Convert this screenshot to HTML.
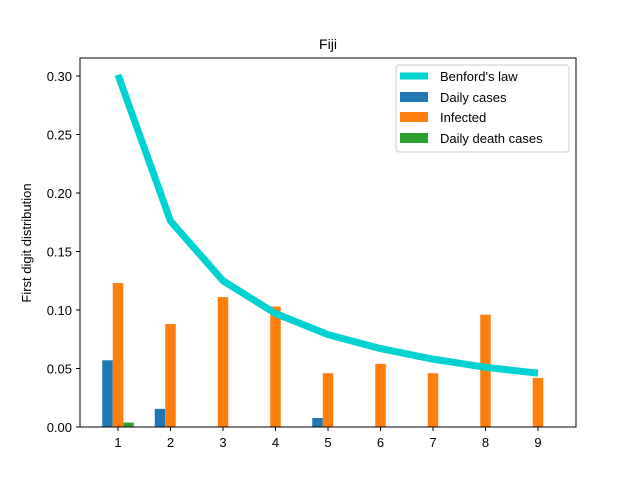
<!DOCTYPE html>
<html><head><meta charset="utf-8"><style>
body{margin:0;background:#fff;font-family:"Liberation Sans",sans-serif;}
svg text{font-family:"Liberation Sans",sans-serif;}
</style></head><body>
<svg id="chart" width="640" height="480" viewBox="0 0 640 480">
<rect width="640" height="480" fill="#fff"/>
<text x="328" y="49" text-anchor="middle" font-size="14">Fiji</text>
<text transform="translate(31,243) rotate(-90)" text-anchor="middle" font-size="13">First digit distribution</text>
<g id="bars"></g><g id="line"></g><g id="ticks"></g>
<rect x="80" y="58" width="496" height="369" fill="none" stroke="#000" stroke-width="1"/>
<g>
<rect x="396" y="65" width="173" height="87" fill="#fff" stroke="#ccc" rx="3"/>
<line x1="400" y1="76" x2="428" y2="76" stroke="#00d2d2" stroke-width="7"/>
<text x="440" y="81" font-size="13">Benford's law</text>
<rect x="400" y="92" width="28" height="10" fill="#1f77b4"/>
<text x="440" y="102" font-size="13">Daily cases</text>
<rect x="400" y="112" width="28" height="10" fill="#ff7f0e"/>
<text x="440" y="122" font-size="13">Infected</text>
<rect x="400" y="133" width="28" height="10" fill="#2ca02c"/>
<text x="440" y="143" font-size="13">Daily death cases</text>
</g>
</svg>
<script>
const digits=[1,2,3,4,5,6,7,8,9];
const benford=[0.301,0.176,0.125,0.097,0.079,0.067,0.058,0.051,0.046];
const dailyCases=[0.057,0.0155,0,0,0.0077,0,0,0,0];
const infected=[0.123,0.088,0.111,0.103,0.046,0.054,0.046,0.096,0.042];
const deaths=[0.0038,0,0,0,0,0,0,0,0];
const yTicks=[0,0.05,0.10,0.15,0.20,0.25,0.30];
const NS="http://www.w3.org/2000/svg";
const X=d=>118+(d-1)*52.5;
const Y=v=>427-v*1170;
const bw=0.2*52.5;
function mk(t,a,p){const e=document.createElementNS(NS,t);for(const k in a)e.setAttribute(k,a[k]);p.appendChild(e);return e;}
const bars=document.getElementById('bars');
const series=[[dailyCases,'#1f77b4',-0.2,'daily-cases'],[infected,'#ff7f0e',0,'infected'],[deaths,'#2ca02c',0.2,'daily-death']];
series.forEach(([vals,col,off,nm])=>{vals.forEach((v,i)=>{if(v<=0)return;
const r=mk('rect',{x:X(digits[i]+off)-bw/2,y:Y(v),width:bw,height:Y(0)-Y(v),fill:col},bars);

});});
const pl=mk('polyline',{points:digits.map((d,i)=>X(d)+','+Y(benford[i])).join(' '),fill:'none',stroke:'#00d2d2','stroke-width':7,'stroke-linejoin':'round'},document.getElementById('line'));


const tk=document.getElementById('ticks');
digits.forEach(d=>{mk('line',{x1:X(d),x2:X(d),y1:427,y2:431,stroke:'#000'},tk);
const t=mk('text',{x:X(d),y:447,'text-anchor':'middle','font-size':13},tk);t.textContent=d;

});
yTicks.forEach(v=>{mk('line',{x1:76,x2:80,y1:Y(v),y2:Y(v),stroke:'#000'},tk);
const t=mk('text',{x:72,y:Y(v)+5,'text-anchor':'end','font-size':13},tk);t.textContent=v.toFixed(2);

});
</script>
</body></html>
